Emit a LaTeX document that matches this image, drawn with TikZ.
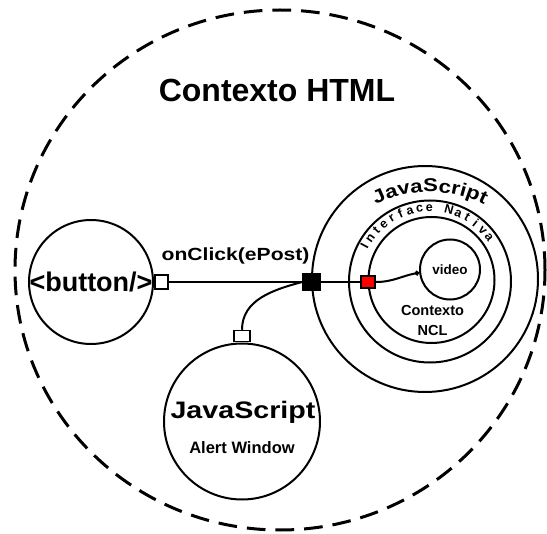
\documentclass[tikz,border=0pt]{standalone}
\usepackage{fontspec}
\setmainfont{Liberation Sans}
\newfontfamily\widesans{Liberation Sans}[FakeStretch=1.2]
\usetikzlibrary{arrows.meta,decorations.text}

\begin{document}
\begin{tikzpicture}[x=0.75pt,y=0.75pt,
    ctx/.style={draw,circle,line width=1.5pt,inner sep=0pt},
    port/.style={draw,rectangle,line width=1.3pt,inner sep=0pt,fill=white},
    wire/.style={line width=1.5pt}]
  \useasboundingbox (0,0) rectangle (547,533);
  % Contexto HTML
  \draw[line width=2.25pt, dash pattern=on 14pt off 7.5pt] (280,263) ellipse [x radius=265, y radius=260];
  \node[font=\bfseries\fontsize{24pt}{28pt}\selectfont] (title) at (277,443) {Contexto HTML};

  % circles
  \node[ctx, minimum size=93pt] (button) at (91,251) {};
  \node[ctx, minimum size=169.5pt] (js) at (425,254) {};
  \node[ctx, minimum size=121.5pt] (native) at (430,251.5) {};
  \node[ctx, minimum size=94.5pt] (ncl) at (431.5,253) {};
  \node[ctx, minimum size=45pt] (video) at (450,263.5) {};
  \node[ctx, minimum size=117pt] (alert) at (242,111.5) {};

  % ports
  \node[port, minimum width=10pt, minimum height=10.5pt, anchor=west] (bport) at (button.east) {};
  \node[port, fill=black, minimum size=12.75pt] (junction) at (311.5,251) {};
  \node[port, fill=red, minimum width=10.5pt, minimum height=9pt] (redport) at (368,251) {};
  \node[port, minimum width=12pt, minimum height=8.25pt, anchor=south] (aport) at (alert.north) {};

  % texts
  \node[font=\bfseries\fontsize{20.25pt}{24pt}\selectfont] (buttontext) at (button) {<button/>};
  \node[font=\bfseries\fontsize{10.1pt}{12pt}\selectfont] (videotext) at (video) {video};
  \node[font=\bfseries\fontsize{10.9pt}{15pt}\selectfont, align=center] (ncltext) at (432.5,213) {Contexto\\NCL};
  \node[font=\widesans\bfseries\fontsize{17.9pt}{20pt}\selectfont, anchor=base] (alertjs) at (243,115) {JavaScript};
  \node[font=\bfseries\fontsize{12.4pt}{14pt}\selectfont, anchor=base] (alertwin) at (242,80) {Alert Window};
  \path[decorate, decoration={text along path, text align=center,
      text={|\widesans\bfseries\fontsize{13.9pt}{16pt}\selectfont|JavaScript}}]
    (430,221) ++(145:120) arc[start angle=145, end angle=35, radius=120];
  \foreach \ch [count=\i, evaluate=\i as \ang using 151.8-(\i-1)*7.67] in {I,n,t,e,r,f,a,c,e,{ },N,a,t,i,v,a}
    \path (native.center) ++(\ang:70) node[font=\bfseries\fontsize{9.4pt}{11pt}\selectfont, anchor=base, inner sep=0pt, rotate=\ang-90] (nat\i) {\ch};

  % connectors
  \draw[wire] (bport.east) -- node[above=9pt, font=\widesans\bfseries\fontsize{13.2pt}{15pt}\selectfont] (click) {onClick(ePost)} (junction.west);
  \draw[wire] (junction.east) -- (redport.west);
  \draw[wire, -{Circle[length=3.5pt]}] (redport.east) to[out=0, in=190] (video.186);
  \draw[wire] (junction.west) to[out=195, in=90] (aport.north);
\end{tikzpicture}
\end{document}
